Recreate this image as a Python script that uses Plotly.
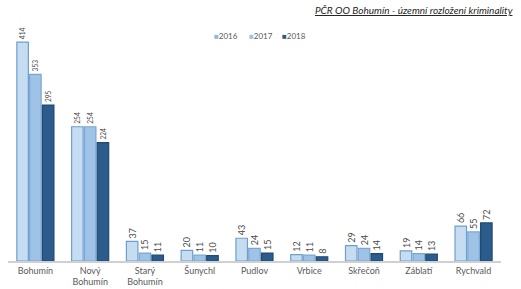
import plotly.graph_objects as go

categories = ["Bohumín", "Nový<br>Bohumín", "Starý<br>Bohumín", "Šunychl", "Pudlov",
              "Vrbice", "Skřečoň", "Záblatí", "Rychvald"]
v2016 = [414, 254, 37, 20, 43, 12, 29, 19, 66]
v2017 = [353, 254, 15, 11, 24, 11, 24, 14, 55]
v2018 = [295, 224, 11, 10, 15, 8, 14, 13, 72]
years = ["2016", "2017", "2018"]
title = "PČR OO Bohumín - územní rozložení kriminality"

fills = ["#c5dcf1", "#9ec3e6", "#2b5c8c"]
lines = ["#6f9fcf", "#7aa6d3", "#1f4a75"]
legend_colors = ["#8fb8e0", "#9ec3e6", "#2b5c8c"]

fig = go.Figure()
for name, vals, fc, lc in zip(years, [v2016, v2017, v2018], fills, lines):
    fig.add_trace(go.Bar(
        x=categories, y=vals, name=name,
        marker=dict(color=fc, line=dict(color=lc, width=1.2)),
        text=[str(v) for v in vals], textposition="outside", textangle=-90,
        textfont=dict(size=9, color="#4a4a4a", family="Lato"),
        cliponaxis=False,
    ))

annotations = [dict(text="<i><u>" + title + "</u></i>", xref="paper", yref="paper",
                    x=1.008, y=1.0, xanchor="right", yanchor="bottom", yshift=12,
                    showarrow=False, font=dict(size=10, color="#262626", family="Lato"))]
leg_x = [0.405, 0.475, 0.541]
for name, lc, lx in zip(years, legend_colors, leg_x):
    annotations.append(dict(
        text="<span style='color:%s'>■</span>%s" % (lc, name),
        xref="paper", yref="paper", x=lx, y=0.974, xanchor="left", yanchor="middle",
        showarrow=False, font=dict(size=8, color="#595959", family="Lato")))

fig.update_layout(
    width=521, height=289,
    margin=dict(l=8, r=10, t=30, b=28, autoexpand=False),
    paper_bgcolor="white", plot_bgcolor="white",
    barmode="group", bargap=0.3, bargroupgap=0.1,
    font=dict(family="Lato", size=9, color="#595959"),
    showlegend=False,
    xaxis=dict(showline=True, linecolor="#d0d0d0", linewidth=1.5, ticks="",
               tickfont=dict(size=9, color="#595959"), showgrid=False,
               automargin=False, domain=[0, 0.98]),
    yaxis=dict(visible=False, range=[0, 437], showgrid=False, automargin=False),
    annotations=annotations,
)

fig.write_html("out.html", config={"displayModeBar": False},
               post_script="document.body.style.margin='0';")
